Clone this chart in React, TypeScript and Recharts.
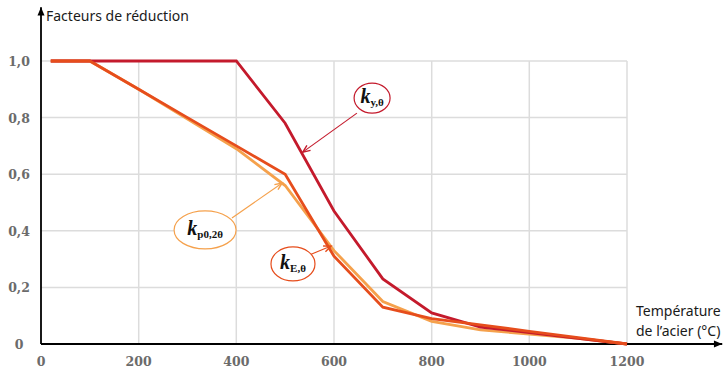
import { CartesianGrid, Line, LineChart, ReferenceDot, ReferenceLine, XAxis, YAxis } from 'recharts';

const KY_COLOR = '#c41a2c';
const KE_COLOR = '#e64d1c';
const KP_COLOR = '#f5a14c';

// Temperature (°C) and reduction factors
const temps = [20, 100, 200, 300, 400, 500, 600, 700, 800, 900, 1000, 1100, 1200];
const kY = [1, 1, 1, 1, 1, 0.78, 0.47, 0.23, 0.11, 0.06, 0.04, 0.02, 0];
const kE = [1, 1, 0.9, 0.8, 0.7, 0.6, 0.31, 0.13, 0.09, 0.0675, 0.045, 0.0225, 0];
const kP = [1, 1, 0.9, 0.795, 0.69, 0.56, 0.33, 0.15, 0.08, 0.05, 0.035, 0.02, 0];

const xTicks = [0, 200, 400, 600, 800, 1000, 1200];
const yTicks = [0, 0.2, 0.4, 0.6, 0.8, 1];

const data = temps.map((t, i) => ({ t, ky: kY[i], kE: kE[i], kp: kP[i] }));

const TICK_FONT = "'DejaVu Serif', serif";

// ─── Arrow shapes ───────────────────────────────────────────

function arrowShape(color: string, width: number, head: number, filled: boolean) {
  return (p: any) => {
    const { x1, y1, x2, y2 } = p;
    if (x1 == null) return <g />;
    const a = Math.atan2(y2 - y1, x2 - x1);
    const ax = x2 - head * Math.cos(a - 0.4);
    const ay = y2 - head * Math.sin(a - 0.4);
    const bx = x2 - head * Math.cos(a + 0.4);
    const by = y2 - head * Math.sin(a + 0.4);
    return (
      <g>
        <line x1={x1} y1={y1} x2={x2} y2={y2} stroke={color} strokeWidth={width} />
        {filled ? (
          <polygon points={`${x2},${y2} ${ax},${ay} ${bx},${by}`} fill={color} />
        ) : (
          <polyline points={`${ax},${ay} ${x2},${y2} ${bx},${by}`} fill="none" stroke={color} strokeWidth={width + 0.3} />
        )}
      </g>
    );
  };
}

function labelShape(sub: string, color: string, rx: number, ry: number) {
  return (p: any) => (
    <g>
      <ellipse cx={p.cx} cy={p.cy} rx={rx} ry={ry} fill="#fff" stroke={color} strokeWidth={1.2} />
      <text
        x={p.cx}
        y={p.cy + 5}
        textAnchor="middle"
        fontFamily="'Liberation Serif', serif"
        fontWeight="bold"
        fill="#111"
      >
        <tspan fontSize={20} fontStyle="italic">k</tspan>
        <tspan fontSize={11} dy={3}>{sub}</tspan>
      </text>
    </g>
  );
}

function YTick({ y, payload }: any) {
  return (
    <text x={19} y={y + 5} textAnchor="middle" fontSize={12.5} fontWeight="bold" fill="#6b6b6b"
      fontFamily={TICK_FONT}>
      {payload.value === 0 ? '0' : payload.value.toFixed(1).replace('.', ',')}
    </text>
  );
}

function XTick({ x, y, payload }: any) {
  return (
    <text x={x} y={y + 14} textAnchor="middle" fontSize={12.5} fontWeight="bold" fill="#6b6b6b"
      fontFamily={TICK_FONT}>
      {payload.value}
    </text>
  );
}

export default function App() {
  const font = "'Noto Sans', sans-serif";
  return (
    <div style={{ position: 'absolute', left: 0, top: 0, width: 725, height: 375, background: '#fff' }}>
      <LineChart width={725} height={375} data={data} margin={{ top: 61, right: 98, left: 0, bottom: 0 }}>
        <CartesianGrid stroke="#dcdcdc" strokeWidth={1.5} verticalPoints={[138.7, 236.3, 334, 431.7, 529.3, 627]} />
        <XAxis
          dataKey="t"
          type="number"
          domain={[0, 1200]}
          ticks={xTicks}
          axisLine={false}
          tickLine={false}
          tick={<XTick />}
          height={31}
        />
        <YAxis
          type="number"
          domain={[0, 1]}
          ticks={yTicks}
          axisLine={false}
          tickLine={false}
          tick={<YTick />}
          width={41}
        />
        <ReferenceLine
          segment={[{ x: 0, y: 0 }, { x: 1395, y: 0 }]}
          ifOverflow="visible"
          shape={arrowShape('#000', 1.8, 9, true)}
        />
        <ReferenceLine
          segment={[{ x: 0, y: 0 }, { x: 0, y: 1.19 }]}
          ifOverflow="visible"
          shape={arrowShape('#000', 1.8, 9, true)}
        />
        <Line dataKey="kp" stroke={KP_COLOR} strokeWidth={2.8} dot={false} isAnimationActive={false} />
        <Line dataKey="ky" stroke={KY_COLOR} strokeWidth={2.8} dot={false} isAnimationActive={false} />
        <Line dataKey="kE" stroke={KE_COLOR} strokeWidth={2.8} dot={false} isAnimationActive={false} />

        <ReferenceLine
          segment={[{ x: 647, y: 0.816 }, { x: 536, y: 0.678 }]}
          ifOverflow="visible"
          shape={arrowShape(KY_COLOR, 1.1, 8, false)}
        />
        <ReferenceLine
          segment={[{ x: 391, y: 0.445 }, { x: 494, y: 0.569 }]}
          ifOverflow="visible"
          shape={arrowShape(KP_COLOR, 1.1, 8, false)}
        />
        <ReferenceLine
          segment={[{ x: 539, y: 0.307 }, { x: 594, y: 0.346 }]}
          ifOverflow="visible"
          shape={arrowShape(KE_COLOR, 1.1, 8, false)}
        />
        <ReferenceDot x={678} y={0.869} ifOverflow="visible" shape={labelShape('y,θ', KY_COLOR, 18, 15)} />
        <ReferenceDot x={336} y={0.403} ifOverflow="visible" shape={labelShape('p0,2θ', KP_COLOR, 31, 19)} />
        <ReferenceDot x={516} y={0.283} ifOverflow="visible" shape={labelShape('E,θ', KE_COLOR, 22, 17)} />
      </LineChart>
      <div style={{ position: 'absolute', left: 46, top: 6, fontFamily: font, fontSize: 14, color: '#1a1a1a' }}>
        Facteurs de réduction
      </div>
      <div style={{ position: 'absolute', left: 636, top: 301, fontFamily: font, fontSize: 14, lineHeight: '20px', color: '#1a1a1a' }}>
        Température
        <br />
        de l’acier (°C)
      </div>
    </div>
  );
}
